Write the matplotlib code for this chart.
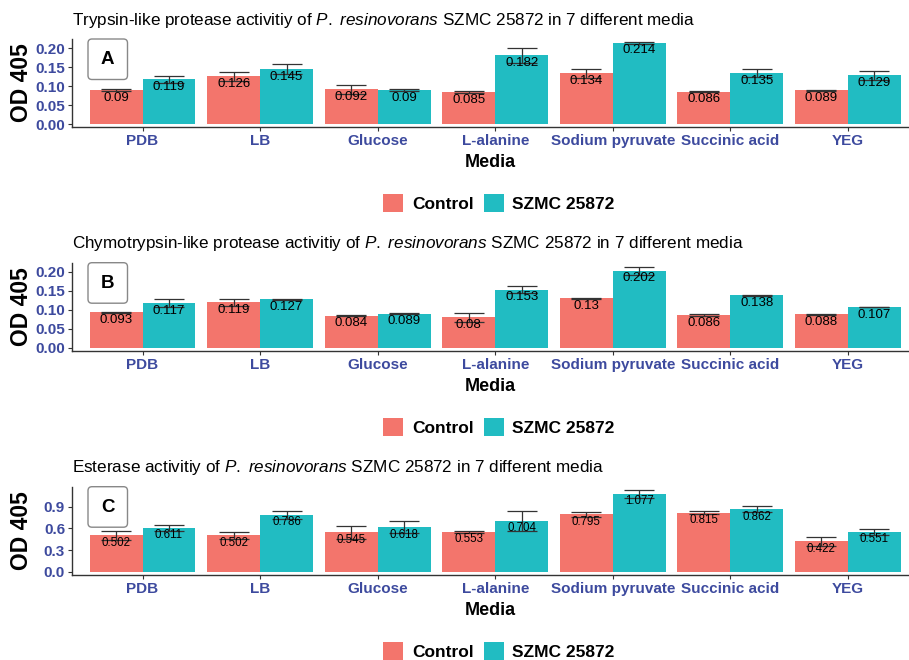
import matplotlib
matplotlib.use("Agg")
import matplotlib.pyplot as plt
import numpy as np
from matplotlib.patches import Patch, FancyBboxPatch
from matplotlib.transforms import IdentityTransform

plt.rcParams['font.family'] = ['Liberation Sans', 'DejaVu Sans']
plt.rcParams['mathtext.fontset'] = 'custom'
plt.rcParams['mathtext.rm'] = 'Liberation Sans'
plt.rcParams['mathtext.it'] = 'Liberation Sans:italic'

media = ["PDB", "LB", "Glucose", "L-alanine", "Sodium pyruvate", "Succinic acid", "YEG"]
groups = ["Control", "SZMC 25872"]

# Panel A: Trypsin-like protease
a_control = [0.09, 0.126, 0.092, 0.085, 0.134, 0.086, 0.089]
a_szmc = [0.119, 0.145, 0.09, 0.182, 0.214, 0.135, 0.129]
a_control_sd = [0.002, 0.011, 0.011, 0.003, 0.012, 0.002, 0.002]
a_szmc_sd = [0.009, 0.013, 0.002, 0.020, 0.002, 0.011, 0.012]

# Panel B: Chymotrypsin-like protease
b_control = [0.093, 0.119, 0.084, 0.08, 0.13, 0.086, 0.088]
b_szmc = [0.117, 0.127, 0.089, 0.153, 0.202, 0.138, 0.107]
b_control_sd = [0.002, 0.010, 0.001, 0.012, 0.001, 0.002, 0.001]
b_szmc_sd = [0.011, 0.002, 0.001, 0.010, 0.010, 0.002, 0.001]

# Panel C: Esterase
c_control = [0.502, 0.502, 0.545, 0.553, 0.795, 0.815, 0.422]
c_szmc = [0.611, 0.786, 0.618, 0.704, 1.077, 0.862, 0.551]
c_control_sd = [0.060, 0.051, 0.087, 0.014, 0.032, 0.019, 0.060]
c_szmc_sd = [0.042, 0.060, 0.078, 0.134, 0.051, 0.042, 0.046]

titles = ["Trypsin-like protease activitiy of $\\it{P.}$ $\\it{resinovorans}$ SZMC 25872 in 7 different media",
          "Chymotrypsin-like protease activitiy of $\\it{P.}$ $\\it{resinovorans}$ SZMC 25872 in 7 different media",
          "Esterase activitiy of $\\it{P.}$ $\\it{resinovorans}$ SZMC 25872 in 7 different media"]
panel_letters = ["A", "B", "C"]

W, H = 909, 660
fig = plt.figure(figsize=(W / 100, H / 100), dpi=100)

RED = "#F3756C"
CYAN = "#21BCC2"
TICKBLUE = "#3D4A9E"
AXC = "#333333"

panels = [
    dict(top=39, bottom=127, ylim=(-0.0071, 0.2245), ticks=[0, 0.05, 0.10, 0.15, 0.20], fmt="{:.2f}",
         ctrl=a_control, szmc=a_szmc, csd=a_control_sd, ssd=a_szmc_sd, lfs=9.5, legy=203),
    dict(top=262.7, bottom=351.3, ylim=(-0.0095, 0.2237), ticks=[0, 0.05, 0.10, 0.15, 0.20], fmt="{:.2f}",
         ctrl=b_control, szmc=b_szmc, csd=b_control_sd, ssd=b_szmc_sd, lfs=9.5, legy=427),
    dict(top=486.7, bottom=575, ylim=(-0.0457, 1.177), ticks=[0, 0.3, 0.6, 0.9], fmt="{:.1f}",
         ctrl=c_control, szmc=c_szmc, csd=c_control_sd, ssd=c_szmc_sd, lfs=8.3, legy=651),
]

left_px, right_px = 72, 909
x = np.arange(len(media))
bw = 0.45

for i, p in enumerate(panels):
    ax = fig.add_axes([left_px / W, 1 - p['bottom'] / H, (right_px - left_px) / W, (p['bottom'] - p['top']) / H])
    ax.bar(x - bw / 2, p['ctrl'], width=bw, color=RED, zorder=2)
    ax.bar(x + bw / 2, p['szmc'], width=bw, color=CYAN, zorder=2)
    ax.errorbar(x - bw / 2, p['ctrl'], yerr=p['csd'], fmt='none', ecolor=AXC, elinewidth=0.9,
                capsize=10.5, capthick=0.9, zorder=3)
    ax.errorbar(x + bw / 2, p['szmc'], yerr=p['ssd'], fmt='none', ecolor=AXC, elinewidth=0.9,
                capsize=10.5, capthick=0.9, zorder=3)
    for xs, vals in ((x - bw / 2, p['ctrl']), (x + bw / 2, p['szmc'])):
        for xi, v in zip(xs, vals):
            ax.annotate(str(v), (xi, v), xytext=(0, -5.4), textcoords='offset points',
                        ha='center', va='center', fontsize=p['lfs'], color='black', zorder=4)
    ax.set_xlim(-0.6, 6.52)
    ax.set_ylim(*p['ylim'])
    ax.set_xticks(x)
    ax.set_xticklabels(media, fontsize=11, fontweight='bold', color=TICKBLUE)
    ax.set_yticks(p['ticks'])
    ax.set_yticklabels([p['fmt'].format(t) for t in p['ticks']], fontsize=11, fontweight='bold', color=TICKBLUE)
    ax.tick_params(axis='both', length=3, width=0.8, color=AXC, pad=2)
    for s in ('top', 'right'):
        ax.spines[s].set_visible(False)
    for s in ('left', 'bottom'):
        ax.spines[s].set_color(AXC)
        ax.spines[s].set_linewidth(1.0)
    ax.set_xlabel("Media", fontsize=13, fontweight='bold', labelpad=4.5)
    fig.text(22 / W, 1 - ((p['top'] + p['bottom']) / 2) / H, "OD 405", rotation=90, ha='center', va='center',
             fontsize=16.5, fontweight='bold')
    fig.text(left_px / W, 1 - (p['top'] - 19) / H, titles[i], ha='left', va='center', fontsize=12.3)
    box = FancyBboxPatch((88, H - p['top'] - 40.5), 39.5, 40.5,
                         boxstyle="round,pad=0,rounding_size=4", transform=IdentityTransform(),
                         fc='white', ec='#888888', lw=1.0, zorder=5)
    fig.add_artist(box)
    fig.text(107.7 / W, 1 - (p['top'] + 20.5) / H, panel_letters[i], ha='center', va='center',
             fontsize=13.5, fontweight='bold', zorder=6)
    handles = [Patch(facecolor=RED, label=groups[0]), Patch(facecolor=CYAN, label=groups[1])]
    fig.legend(handles=handles, loc='center', bbox_to_anchor=(499 / W, 1 - p['legy'] / H), ncol=2,
               frameon=False, prop=dict(size=12.5, weight='bold'), handlelength=1.15, handleheight=1.2,
               handletextpad=0.5, columnspacing=0.6, borderpad=0, borderaxespad=0)

fig.savefig("out.png", dpi=100)
